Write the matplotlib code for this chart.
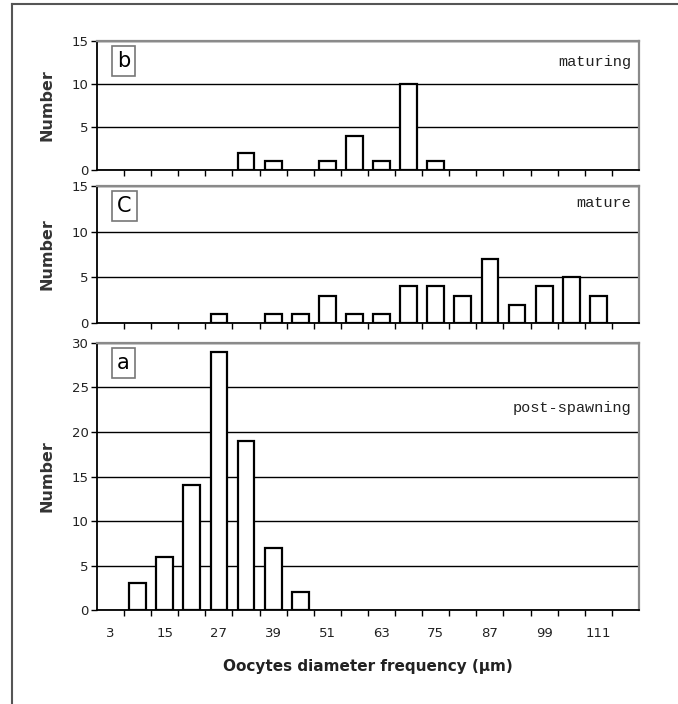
import matplotlib
matplotlib.use("Agg")
import matplotlib.pyplot as plt
from matplotlib.lines import Line2D
import numpy as np

# diameter classes (µm)
classes = list(range(3, 118, 6))

# counts per class
maturing = [0, 0, 0, 0, 0, 2, 1, 0, 1, 4, 1, 10, 1, 0, 0, 0, 0, 0, 0, 0]
mature = [0, 0, 0, 0, 1, 0, 1, 1, 3, 1, 1, 4, 4, 3, 7, 2, 4, 5, 3, 0]
post_spawning = [0, 3, 6, 14, 29, 19, 7, 2, 0, 0, 0, 0, 0, 0, 0, 0, 0, 0, 0, 0]

panels = [
    ("b", "maturing", maturing, 15, [0.143, 0.7585, 0.7995, 0.1833], 21),
    ("C", "mature", mature, 15, [0.143, 0.5412, 0.7995, 0.1946], 17),
    ("a", "post-spawning", post_spawning, 30, [0.143, 0.1335, 0.7995, 0.3793], 65),
]

plt.rcParams["font.family"] = ["Liberation Sans Narrow", "DejaVu Sans"]

fig = plt.figure(figsize=(6.78, 7.04), dpi=100)
x = np.arange(len(classes))

for i, (letter, name, counts, ymax, rect, name_off) in enumerate(panels):
    ax = fig.add_axes(rect)
    counts = np.array(counts)
    nz = counts > 0
    ax.bar(x[nz], counts[nz], width=0.62, color="white", edgecolor="black", linewidth=1.6, zorder=3)
    ax.set_xlim(-0.5, len(classes) - 0.5)
    ax.set_ylim(0, ymax)
    ax.set_yticks(np.arange(0, ymax + 1, 5))
    ax.yaxis.grid(True, color="black", linewidth=1.0)
    ax.set_axisbelow(True)

    # ticks at class boundaries, labels at every other class centre
    ax.set_xticks(np.arange(0.5, len(classes) - 0.5, 1), minor=True)
    ax.tick_params(axis="x", which="minor", length=4, width=1, direction="out", color="black")
    if i == 2:
        ax.set_xticks(x[::2])
        ax.set_xticklabels([str(c) for c in classes[::2]], fontsize=9.5, color="#222222")
        ax.tick_params(axis="x", which="major", length=0, pad=12)
        ax.set_xlabel("Oocytes diameter frequency (µm)", fontsize=11,
                      family=["DejaVu Sans"], fontweight="bold", color="#222222",
                      labelpad=14)
    else:
        ax.set_xticks([])
    ax.tick_params(axis="y", length=4, width=1, direction="out", labelsize=9.5,
                   labelcolor="#222222", pad=2)

    for side in ("left", "bottom"):
        ax.spines[side].set_color("black")
        ax.spines[side].set_linewidth(1.3)
    for side in ("top", "right"):
        ax.spines[side].set_color("#8a8a8a")
        ax.spines[side].set_linewidth(1.6)

    ax.set_ylabel("Number", fontsize=11.5, family=["DejaVu Sans"], fontweight="bold",
                  color="#333333", labelpad=12)

    ax.annotate(letter, xy=(0, 1), xycoords="axes fraction", xytext=(20, -10),
                textcoords="offset pixels", ha="left", va="top", fontsize=15,
                bbox=dict(boxstyle="square,pad=0.25", facecolor="white",
                          edgecolor="#777777", linewidth=1.2), zorder=5)
    ax.annotate(name, xy=(1, 1), xycoords="axes fraction", xytext=(-8, -name_off),
                textcoords="offset pixels", ha="right", va="center", fontsize=11,
                family=["Liberation Mono", "DejaVu Sans Mono"], color="#222222", zorder=5)

# outer frame
fig.add_artist(Line2D([0.0177, 1.0], [0.9943, 0.9943], color="#555555", linewidth=1.5))
fig.add_artist(Line2D([0.0177, 0.0177], [0.0, 0.9943], color="#555555", linewidth=1.5))

fig.savefig("out.png", dpi=100)
